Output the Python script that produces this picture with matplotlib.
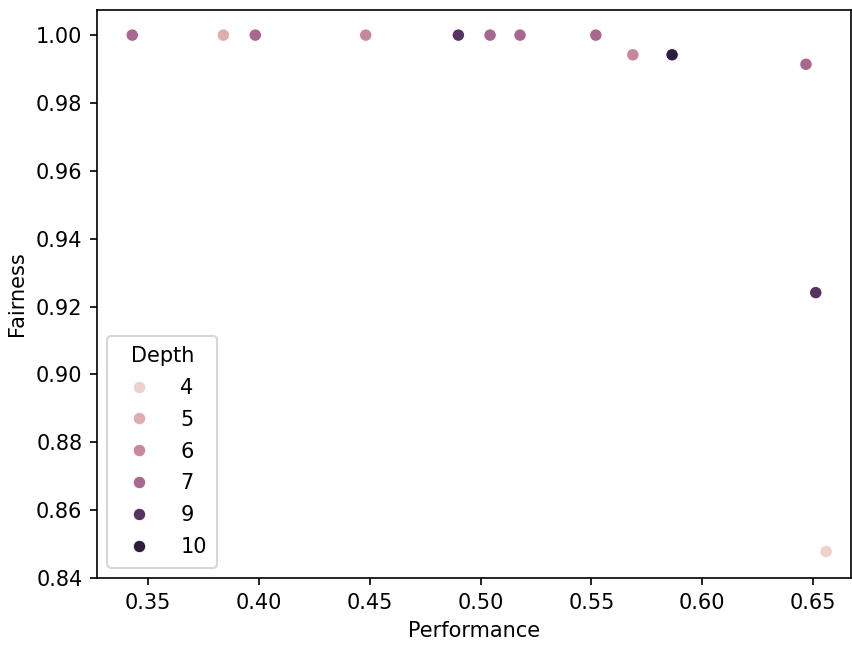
import matplotlib
matplotlib.use("Agg")
import matplotlib.pyplot as plt
import pandas as pd
import seaborn as sns

performance = [0.3429, 0.3840, 0.3984, 0.4482, 0.4900, 0.5043, 0.5178,
               0.5520, 0.5687, 0.5864, 0.6468, 0.6512, 0.6559]
fairness = [1.000, 1.000, 1.000, 1.000, 1.000, 1.000, 1.000,
            1.000, 0.9942, 0.9942, 0.9914, 0.9241, 0.8478]
depth = [7, 5, 7, 6, 9, 7, 7, 7, 6, 10, 7, 9, 4]

df = pd.DataFrame({"Performance": performance, "Fairness": fairness, "Depth": depth})

dpi = 150
fig = plt.figure(figsize=(852 / dpi, 645 / dpi), dpi=dpi)
ax = fig.add_axes([97 / 852, 1 - 578 / 645, 754 / 852, 568 / 645])
sns.scatterplot(data=df, x="Performance", y="Fairness", hue="Depth", ax=ax)
ax.set_xlim(0.3270, 0.6671)
ax.set_ylim(0.84, 1.0074)
ax.legend(title="Depth", loc="lower left", labelspacing=0.57,
          handletextpad=1.0, borderpad=0.5)
fig.savefig("out.png", dpi=dpi)
